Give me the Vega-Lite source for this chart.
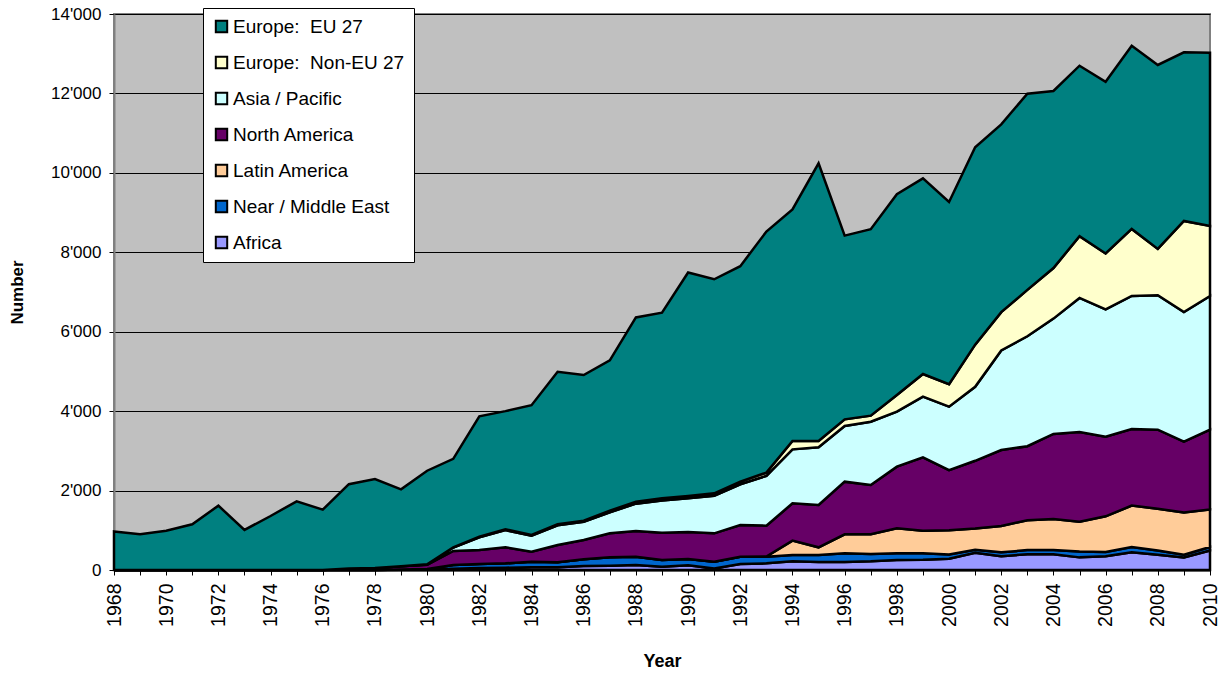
{
 "$schema": "https://vega.github.io/schema/vega-lite/v6.json",
 "width": 1096, "height": 556,
 "autosize": {"type": "none"},
 "padding": {"left": 114, "top": 14, "right": 11, "bottom": 104},
 "background": "white",
 "config": {"view": {"fill": "#C0C0C0", "stroke": "#808080", "strokeWidth": 2}, "font": "Liberation Sans"},
 "datasets": {"d": [
{"Year":1968,"Region":"Africa","Number":0},{"Year":1968,"Region":"Near / Middle East","Number":0},{"Year":1968,"Region":"Latin America","Number":0},{"Year":1968,"Region":"North America","Number":0},{"Year":1968,"Region":"Asia / Pacific","Number":0},{"Year":1968,"Region":"Europe:  Non-EU 27","Number":0},{"Year":1968,"Region":"Europe:  EU 27","Number":970},
{"Year":1969,"Region":"Africa","Number":0},{"Year":1969,"Region":"Near / Middle East","Number":0},{"Year":1969,"Region":"Latin America","Number":0},{"Year":1969,"Region":"North America","Number":0},{"Year":1969,"Region":"Asia / Pacific","Number":0},{"Year":1969,"Region":"Europe:  Non-EU 27","Number":0},{"Year":1969,"Region":"Europe:  EU 27","Number":900},
{"Year":1970,"Region":"Africa","Number":0},{"Year":1970,"Region":"Near / Middle East","Number":0},{"Year":1970,"Region":"Latin America","Number":0},{"Year":1970,"Region":"North America","Number":0},{"Year":1970,"Region":"Asia / Pacific","Number":0},{"Year":1970,"Region":"Europe:  Non-EU 27","Number":0},{"Year":1970,"Region":"Europe:  EU 27","Number":990},
{"Year":1971,"Region":"Africa","Number":0},{"Year":1971,"Region":"Near / Middle East","Number":0},{"Year":1971,"Region":"Latin America","Number":0},{"Year":1971,"Region":"North America","Number":0},{"Year":1971,"Region":"Asia / Pacific","Number":0},{"Year":1971,"Region":"Europe:  Non-EU 27","Number":0},{"Year":1971,"Region":"Europe:  EU 27","Number":1150},
{"Year":1972,"Region":"Africa","Number":0},{"Year":1972,"Region":"Near / Middle East","Number":0},{"Year":1972,"Region":"Latin America","Number":0},{"Year":1972,"Region":"North America","Number":0},{"Year":1972,"Region":"Asia / Pacific","Number":0},{"Year":1972,"Region":"Europe:  Non-EU 27","Number":0},{"Year":1972,"Region":"Europe:  EU 27","Number":1620},
{"Year":1973,"Region":"Africa","Number":0},{"Year":1973,"Region":"Near / Middle East","Number":0},{"Year":1973,"Region":"Latin America","Number":0},{"Year":1973,"Region":"North America","Number":0},{"Year":1973,"Region":"Asia / Pacific","Number":0},{"Year":1973,"Region":"Europe:  Non-EU 27","Number":0},{"Year":1973,"Region":"Europe:  EU 27","Number":1010},
{"Year":1974,"Region":"Africa","Number":0},{"Year":1974,"Region":"Near / Middle East","Number":0},{"Year":1974,"Region":"Latin America","Number":0},{"Year":1974,"Region":"North America","Number":0},{"Year":1974,"Region":"Asia / Pacific","Number":0},{"Year":1974,"Region":"Europe:  Non-EU 27","Number":0},{"Year":1974,"Region":"Europe:  EU 27","Number":1360},
{"Year":1975,"Region":"Africa","Number":0},{"Year":1975,"Region":"Near / Middle East","Number":0},{"Year":1975,"Region":"Latin America","Number":0},{"Year":1975,"Region":"North America","Number":0},{"Year":1975,"Region":"Asia / Pacific","Number":0},{"Year":1975,"Region":"Europe:  Non-EU 27","Number":0},{"Year":1975,"Region":"Europe:  EU 27","Number":1730},
{"Year":1976,"Region":"Africa","Number":0},{"Year":1976,"Region":"Near / Middle East","Number":0},{"Year":1976,"Region":"Latin America","Number":0},{"Year":1976,"Region":"North America","Number":0},{"Year":1976,"Region":"Asia / Pacific","Number":0},{"Year":1976,"Region":"Europe:  Non-EU 27","Number":0},{"Year":1976,"Region":"Europe:  EU 27","Number":1520},
{"Year":1977,"Region":"Africa","Number":0},{"Year":1977,"Region":"Near / Middle East","Number":0},{"Year":1977,"Region":"Latin America","Number":0},{"Year":1977,"Region":"North America","Number":35},{"Year":1977,"Region":"Asia / Pacific","Number":0},{"Year":1977,"Region":"Europe:  Non-EU 27","Number":0},{"Year":1977,"Region":"Europe:  EU 27","Number":2125},
{"Year":1978,"Region":"Africa","Number":0},{"Year":1978,"Region":"Near / Middle East","Number":0},{"Year":1978,"Region":"Latin America","Number":0},{"Year":1978,"Region":"North America","Number":50},{"Year":1978,"Region":"Asia / Pacific","Number":0},{"Year":1978,"Region":"Europe:  Non-EU 27","Number":0},{"Year":1978,"Region":"Europe:  EU 27","Number":2240},
{"Year":1979,"Region":"Africa","Number":5},{"Year":1979,"Region":"Near / Middle East","Number":10},{"Year":1979,"Region":"Latin America","Number":0},{"Year":1979,"Region":"North America","Number":80},{"Year":1979,"Region":"Asia / Pacific","Number":0},{"Year":1979,"Region":"Europe:  Non-EU 27","Number":0},{"Year":1979,"Region":"Europe:  EU 27","Number":1935},
{"Year":1980,"Region":"Africa","Number":5},{"Year":1980,"Region":"Near / Middle East","Number":20},{"Year":1980,"Region":"Latin America","Number":0},{"Year":1980,"Region":"North America","Number":105},{"Year":1980,"Region":"Asia / Pacific","Number":10},{"Year":1980,"Region":"Europe:  Non-EU 27","Number":5},{"Year":1980,"Region":"Europe:  EU 27","Number":2355},
{"Year":1981,"Region":"Africa","Number":34},{"Year":1981,"Region":"Near / Middle East","Number":92},{"Year":1981,"Region":"Latin America","Number":0},{"Year":1981,"Region":"North America","Number":352},{"Year":1981,"Region":"Asia / Pacific","Number":88},{"Year":1981,"Region":"Europe:  Non-EU 27","Number":5},{"Year":1981,"Region":"Europe:  EU 27","Number":2229},
{"Year":1982,"Region":"Africa","Number":50},{"Year":1982,"Region":"Near / Middle East","Number":101},{"Year":1982,"Region":"Latin America","Number":0},{"Year":1982,"Region":"North America","Number":353},{"Year":1982,"Region":"Asia / Pacific","Number":320},{"Year":1982,"Region":"Europe:  Non-EU 27","Number":15},{"Year":1982,"Region":"Europe:  EU 27","Number":3031},
{"Year":1983,"Region":"Africa","Number":59},{"Year":1983,"Region":"Near / Middle East","Number":109},{"Year":1983,"Region":"Latin America","Number":0},{"Year":1983,"Region":"North America","Number":403},{"Year":1983,"Region":"Asia / Pacific","Number":433},{"Year":1983,"Region":"Europe:  Non-EU 27","Number":20},{"Year":1983,"Region":"Europe:  EU 27","Number":2976},
{"Year":1984,"Region":"Africa","Number":67},{"Year":1984,"Region":"Near / Middle East","Number":143},{"Year":1984,"Region":"Latin America","Number":0},{"Year":1984,"Region":"North America","Number":252},{"Year":1984,"Region":"Asia / Pacific","Number":399},{"Year":1984,"Region":"Europe:  Non-EU 27","Number":20},{"Year":1984,"Region":"Europe:  EU 27","Number":3269},
{"Year":1985,"Region":"Africa","Number":67},{"Year":1985,"Region":"Near / Middle East","Number":126},{"Year":1985,"Region":"Latin America","Number":0},{"Year":1985,"Region":"North America","Number":436},{"Year":1985,"Region":"Asia / Pacific","Number":496},{"Year":1985,"Region":"Europe:  Non-EU 27","Number":25},{"Year":1985,"Region":"Europe:  EU 27","Number":3840},
{"Year":1986,"Region":"Africa","Number":100},{"Year":1986,"Region":"Near / Middle East","Number":169},{"Year":1986,"Region":"Latin America","Number":0},{"Year":1986,"Region":"North America","Number":486},{"Year":1986,"Region":"Asia / Pacific","Number":457},{"Year":1986,"Region":"Europe:  Non-EU 27","Number":30},{"Year":1986,"Region":"Europe:  EU 27","Number":3668},
{"Year":1987,"Region":"Africa","Number":109},{"Year":1987,"Region":"Near / Middle East","Number":210},{"Year":1987,"Region":"Latin America","Number":0},{"Year":1987,"Region":"North America","Number":604},{"Year":1987,"Region":"Asia / Pacific","Number":531},{"Year":1987,"Region":"Europe:  Non-EU 27","Number":40},{"Year":1987,"Region":"Europe:  EU 27","Number":3786},
{"Year":1988,"Region":"Africa","Number":126},{"Year":1988,"Region":"Near / Middle East","Number":210},{"Year":1988,"Region":"Latin America","Number":0},{"Year":1988,"Region":"North America","Number":646},{"Year":1988,"Region":"Asia / Pacific","Number":688},{"Year":1988,"Region":"Europe:  Non-EU 27","Number":50},{"Year":1988,"Region":"Europe:  EU 27","Number":4640},
{"Year":1989,"Region":"Africa","Number":84},{"Year":1989,"Region":"Near / Middle East","Number":168},{"Year":1989,"Region":"Latin America","Number":0},{"Year":1989,"Region":"North America","Number":688},{"Year":1989,"Region":"Asia / Pacific","Number":809},{"Year":1989,"Region":"Europe:  Non-EU 27","Number":55},{"Year":1989,"Region":"Europe:  EU 27","Number":4676},
{"Year":1990,"Region":"Africa","Number":117},{"Year":1990,"Region":"Near / Middle East","Number":160},{"Year":1990,"Region":"Latin America","Number":0},{"Year":1990,"Region":"North America","Number":680},{"Year":1990,"Region":"Asia / Pacific","Number":851},{"Year":1990,"Region":"Europe:  Non-EU 27","Number":55},{"Year":1990,"Region":"Europe:  EU 27","Number":5627},
{"Year":1991,"Region":"Africa","Number":40},{"Year":1991,"Region":"Near / Middle East","Number":170},{"Year":1991,"Region":"Latin America","Number":0},{"Year":1991,"Region":"North America","Number":713},{"Year":1991,"Region":"Asia / Pacific","Number":947},{"Year":1991,"Region":"Europe:  Non-EU 27","Number":60},{"Year":1991,"Region":"Europe:  EU 27","Number":5390},
{"Year":1992,"Region":"Africa","Number":151},{"Year":1992,"Region":"Near / Middle East","Number":185},{"Year":1992,"Region":"Latin America","Number":0},{"Year":1992,"Region":"North America","Number":797},{"Year":1992,"Region":"Asia / Pacific","Number":1026},{"Year":1992,"Region":"Europe:  Non-EU 27","Number":65},{"Year":1992,"Region":"Europe:  EU 27","Number":5426},
{"Year":1993,"Region":"Africa","Number":168},{"Year":1993,"Region":"Near / Middle East","Number":168},{"Year":1993,"Region":"Latin America","Number":5},{"Year":1993,"Region":"North America","Number":776},{"Year":1993,"Region":"Asia / Pacific","Number":1255},{"Year":1993,"Region":"Europe:  Non-EU 27","Number":80},{"Year":1993,"Region":"Europe:  EU 27","Number":6069},
{"Year":1994,"Region":"Africa","Number":218},{"Year":1994,"Region":"Near / Middle East","Number":160},{"Year":1994,"Region":"Latin America","Number":361},{"Year":1994,"Region":"North America","Number":940},{"Year":1994,"Region":"Asia / Pacific","Number":1359},{"Year":1994,"Region":"Europe:  Non-EU 27","Number":210},{"Year":1994,"Region":"Europe:  EU 27","Number":5832},
{"Year":1995,"Region":"Africa","Number":201},{"Year":1995,"Region":"Near / Middle East","Number":177},{"Year":1995,"Region":"Latin America","Number":193},{"Year":1995,"Region":"North America","Number":1066},{"Year":1995,"Region":"Asia / Pacific","Number":1452},{"Year":1995,"Region":"Europe:  Non-EU 27","Number":159},{"Year":1995,"Region":"Europe:  EU 27","Number":6992},
{"Year":1996,"Region":"Africa","Number":201},{"Year":1996,"Region":"Near / Middle East","Number":219},{"Year":1996,"Region":"Latin America","Number":478},{"Year":1996,"Region":"North America","Number":1326},{"Year":1996,"Region":"Asia / Pacific","Number":1402},{"Year":1996,"Region":"Europe:  Non-EU 27","Number":168},{"Year":1996,"Region":"Europe:  EU 27","Number":4626},
{"Year":1997,"Region":"Africa","Number":218},{"Year":1997,"Region":"Near / Middle East","Number":185},{"Year":1997,"Region":"Latin America","Number":495},{"Year":1997,"Region":"North America","Number":1242},{"Year":1997,"Region":"Asia / Pacific","Number":1595},{"Year":1997,"Region":"Europe:  Non-EU 27","Number":151},{"Year":1997,"Region":"Europe:  EU 27","Number":4694},
{"Year":1998,"Region":"Africa","Number":252},{"Year":1998,"Region":"Near / Middle East","Number":168},{"Year":1998,"Region":"Latin America","Number":629},{"Year":1998,"Region":"North America","Number":1553},{"Year":1998,"Region":"Asia / Pacific","Number":1385},{"Year":1998,"Region":"Europe:  Non-EU 27","Number":419},{"Year":1998,"Region":"Europe:  EU 27","Number":5054},
{"Year":1999,"Region":"Africa","Number":260},{"Year":1999,"Region":"Near / Middle East","Number":160},{"Year":1999,"Region":"Latin America","Number":570},{"Year":1999,"Region":"North America","Number":1847},{"Year":1999,"Region":"Asia / Pacific","Number":1527},{"Year":1999,"Region":"Europe:  Non-EU 27","Number":571},{"Year":1999,"Region":"Europe:  EU 27","Number":4925},
{"Year":2000,"Region":"Africa","Number":285},{"Year":2000,"Region":"Near / Middle East","Number":105},{"Year":2000,"Region":"Latin America","Number":610},{"Year":2000,"Region":"North America","Number":1515},{"Year":2000,"Region":"Asia / Pacific","Number":1597},{"Year":2000,"Region":"Europe:  Non-EU 27","Number":566},{"Year":2000,"Region":"Europe:  EU 27","Number":4587},
{"Year":2001,"Region":"Africa","Number":434},{"Year":2001,"Region":"Near / Middle East","Number":77},{"Year":2001,"Region":"Latin America","Number":531},{"Year":2001,"Region":"North America","Number":1708},{"Year":2001,"Region":"Asia / Pacific","Number":1862},{"Year":2001,"Region":"Europe:  Non-EU 27","Number":1062},{"Year":2001,"Region":"Europe:  EU 27","Number":4969},
{"Year":2002,"Region":"Africa","Number":347},{"Year":2002,"Region":"Near / Middle East","Number":97},{"Year":2002,"Region":"Latin America","Number":666},{"Year":2002,"Region":"North America","Number":1910},{"Year":2002,"Region":"Asia / Pacific","Number":2509},{"Year":2002,"Region":"Europe:  Non-EU 27","Number":965},{"Year":2002,"Region":"Europe:  EU 27","Number":4728},
{"Year":2003,"Region":"Africa","Number":396},{"Year":2003,"Region":"Near / Middle East","Number":106},{"Year":2003,"Region":"Latin America","Number":752},{"Year":2003,"Region":"North America","Number":1863},{"Year":2003,"Region":"Asia / Pacific","Number":2769},{"Year":2003,"Region":"Europe:  Non-EU 27","Number":1167},{"Year":2003,"Region":"Europe:  EU 27","Number":4941},
{"Year":2004,"Region":"Africa","Number":396},{"Year":2004,"Region":"Near / Middle East","Number":106},{"Year":2004,"Region":"Latin America","Number":781},{"Year":2004,"Region":"North America","Number":2142},{"Year":2004,"Region":"Asia / Pacific","Number":2905},{"Year":2004,"Region":"Europe:  Non-EU 27","Number":1273},{"Year":2004,"Region":"Europe:  EU 27","Number":4458},
{"Year":2005,"Region":"Africa","Number":318},{"Year":2005,"Region":"Near / Middle East","Number":145},{"Year":2005,"Region":"Latin America","Number":753},{"Year":2005,"Region":"North America","Number":2258},{"Year":2005,"Region":"Asia / Pacific","Number":3377},{"Year":2005,"Region":"Europe:  Non-EU 27","Number":1553},{"Year":2005,"Region":"Europe:  EU 27","Number":4294},
{"Year":2006,"Region":"Africa","Number":347},{"Year":2006,"Region":"Near / Middle East","Number":106},{"Year":2006,"Region":"Latin America","Number":898},{"Year":2006,"Region":"North America","Number":2007},{"Year":2006,"Region":"Asia / Pacific","Number":3203},{"Year":2006,"Region":"Europe:  Non-EU 27","Number":1409},{"Year":2006,"Region":"Europe:  EU 27","Number":4323},
{"Year":2007,"Region":"Africa","Number":444},{"Year":2007,"Region":"Near / Middle East","Number":135},{"Year":2007,"Region":"Latin America","Number":1042},{"Year":2007,"Region":"North America","Number":1930},{"Year":2007,"Region":"Asia / Pacific","Number":3348},{"Year":2007,"Region":"Europe:  Non-EU 27","Number":1689},{"Year":2007,"Region":"Europe:  EU 27","Number":4612},
{"Year":2008,"Region":"Africa","Number":386},{"Year":2008,"Region":"Near / Middle East","Number":106},{"Year":2008,"Region":"Latin America","Number":1052},{"Year":2008,"Region":"North America","Number":1988},{"Year":2008,"Region":"Asia / Pacific","Number":3386},{"Year":2008,"Region":"Europe:  Non-EU 27","Number":1168},{"Year":2008,"Region":"Europe:  EU 27","Number":4631},
{"Year":2009,"Region":"Africa","Number":318},{"Year":2009,"Region":"Near / Middle East","Number":68},{"Year":2009,"Region":"Latin America","Number":1061},{"Year":2009,"Region":"North America","Number":1785},{"Year":2009,"Region":"Asia / Pacific","Number":3262},{"Year":2009,"Region":"Europe:  Non-EU 27","Number":2296},{"Year":2009,"Region":"Europe:  EU 27","Number":4246},
{"Year":2010,"Region":"Africa","Number":492},{"Year":2010,"Region":"Near / Middle East","Number":87},{"Year":2010,"Region":"Latin America","Number":946},{"Year":2010,"Region":"North America","Number":2007},{"Year":2010,"Region":"Asia / Pacific","Number":3367},{"Year":2010,"Region":"Europe:  Non-EU 27","Number":1766},{"Year":2010,"Region":"Europe:  EU 27","Number":4361}
 ]},
 "data": {"name": "d"},
 "transform": [
  {"calculate": "indexof(['Africa','Near / Middle East','Latin America','North America','Asia / Pacific','Europe:  Non-EU 27','Europe:  EU 27'], datum.Region)", "as": "StackOrder"}
 ],
 "mark": {"type": "area", "stroke": "black", "strokeWidth": 2.5, "strokeJoin": "miter", "opacity": 1},
 "encoding": {
  "x": {"field": "Year", "type": "quantitative",
        "scale": {"domain": [1968, 2010], "nice": false, "zero": false},
        "axis": {"values": [1968,1969,1970,1971,1972,1973,1974,1975,1976,1977,1978,1979,1980,1981,1982,1983,1984,1985,1986,1987,1988,1989,1990,1991,1992,1993,1994,1995,1996,1997,1998,1999,2000,2001,2002,2003,2004,2005,2006,2007,2008,2009,2010],
                 "labelExpr": "datum.value % 2 == 0 ? '' + datum.value : ''",
                 "labelAngle": 270, "labelAlign": "right", "labelBaseline": "middle",
                 "labelFontSize": 19.5, "labelColor": "black", "labelPadding": 8, "labelFlush": false, "labelOverlap": false,
                 "tickSize": 5, "tickColor": "black", "tickWidth": 1,
                 "domainColor": "black", "domainWidth": 2, "grid": false,
                 "title": "Year", "titleFontSize": 18, "titleFontWeight": "bold", "titleColor": "black", "titlePadding": 26}},
  "y": {"field": "Number", "type": "quantitative", "stack": "zero",
        "scale": {"domain": [0, 14000], "nice": false},
        "axis": {"values": [0,2000,4000,6000,8000,10000,12000,14000],
                 "labelExpr": "replace(format(datum.value, ','), ',', \"'\")",
                 "labelFontSize": 17, "labelColor": "black", "labelPadding": 8,
                 "tickSize": 5, "tickColor": "black",
                 "domainColor": "#808080", "domainWidth": 2,
                 "grid": true, "gridColor": "black", "gridWidth": 1,
                 "title": "Number", "titleFontSize": 17, "titleFontWeight": "bold", "titleColor": "black", "titlePadding": 24}},
  "color": {"field": "Region", "type": "nominal",
            "scale": {"domain": ["Europe:  EU 27","Europe:  Non-EU 27","Asia / Pacific","North America","Latin America","Near / Middle East","Africa"],
                      "range": ["#008080","#FFFFCC","#CCFFFF","#660066","#FFCC99","#0066CC","#9999FF"]},
            "legend": {"title": null, "orient": "none", "legendX": 89, "legendY": -6,
                       "fillColor": "white", "strokeColor": "black", "padding": 9,
                       "symbolType": "square", "symbolSize": 130, "symbolStrokeColor": "black", "symbolStrokeWidth": 2,
                       "labelExpr": "replace(datum.label, ':  ', ':\u00a0\u00a0')",
                       "labelFontSize": 19, "labelColor": "black", "labelOffset": 2, "rowPadding": 15, "labelLimit": 400}},
  "order": {"field": "StackOrder", "type": "quantitative", "sort": "ascending"}
 }
}
